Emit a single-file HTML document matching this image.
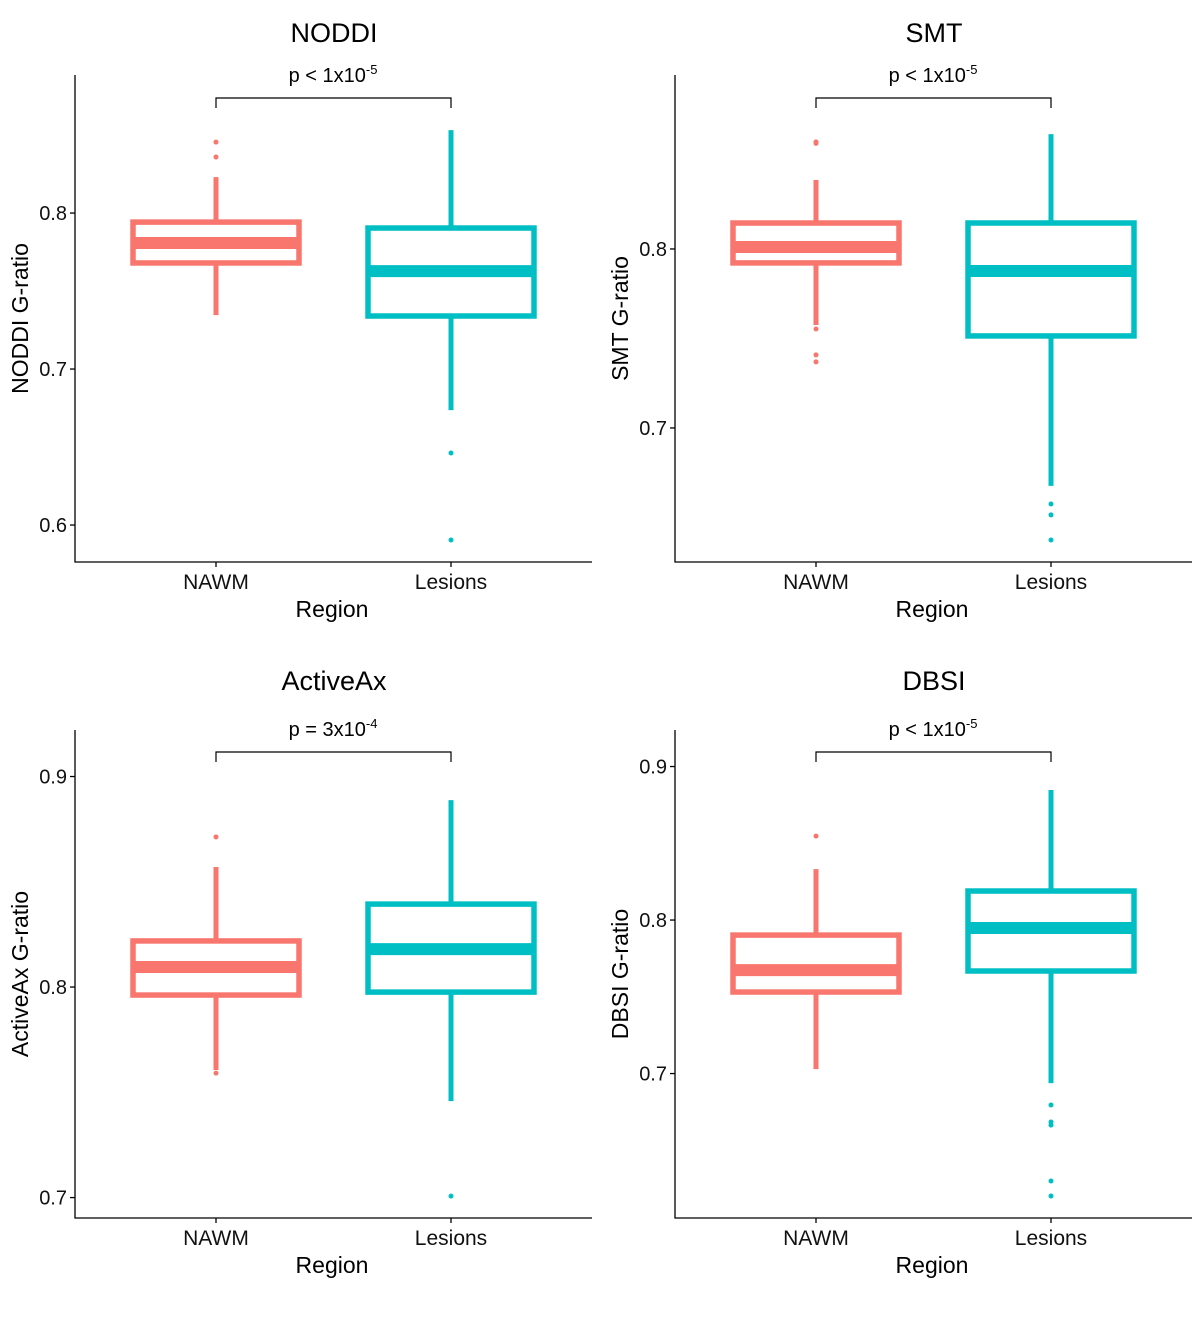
<!DOCTYPE html>
<html><head><meta charset="utf-8"><style>
body{margin:0;background:#fff}
svg{display:block;font-family:"Liberation Sans",sans-serif}
</style></head><body>
<svg id="chart" width="1201" height="1329" viewBox="0 0 1201 1329"></svg>
<script>
const panelNames=["NODDI","SMT","ActiveAx","DBSI"];
const pLabels=[["p < 1x10","-5"],["p < 1x10","-5"],["p = 3x10","-4"],["p < 1x10","-5"]];
const categories=["NAWM","Lesions"];
const yTicks=[[0.6,0.7,0.8],[0.7,0.8],[0.7,0.8,0.9],[0.7,0.8,0.9]];
const yDomains=[[0.5763,0.8885],[0.6251,0.8972],[0.6903,0.9221],[0.6059,0.9238]];
// [lowWhisker, q1, median, q3, highWhisker]
const nawmStats=[[0.7346,0.768,0.7808,0.7942,0.823],[0.7575,0.7922,0.8011,0.8145,0.8385],[0.7606,0.7962,0.8095,0.8219,0.857],[0.7029,0.7531,0.7674,0.7902,0.8332]];
const lesionStats=[[0.6737,0.734,0.7628,0.7904,0.8532],[0.6676,0.7514,0.7877,0.8145,0.8642],[0.7458,0.7976,0.818,0.8394,0.8888],[0.6938,0.7668,0.7948,0.8189,0.8847]];
const nawmOutliers=[[0.8455,0.8359],[0.8598,0.859,0.7553,0.7408,0.7369],[0.8713,0.7591],[0.8547]];
const lesionOutliers=[[0.6462,0.5904],[0.6575,0.6514,0.6374],[0.7007],[0.6795,0.6684,0.6664,0.63,0.6202]];
const colors=["#F8766D","#00BFC4"];
const svg=document.getElementById('chart');
const NS="http://www.w3.org/2000/svg";
function mk(tag,attrs,parent,text){const e=document.createElementNS(NS,tag);for(const k in attrs)e.setAttribute(k,attrs[k]);if(text!==undefined)e.textContent=text;parent.appendChild(e);return e;}
for(let p=0;p<4;p++){
  const ox=(p%2)*600, oy=Math.floor(p/2)*656;
  const g=mk('g',{},svg);
  
  
  const top=75+oy-(p>=2?1:0), bot=562+oy;
  const x0=75+ox, x1=592+ox;
  const [d0,d1]=yDomains[p];
  const yS=v=>bot-(v-d0)/(d1-d0)*(bot-top);
  const xc=[216+ox,451+ox];
  const t=mk('text',{x:334+ox,y:(p>=2?690:42),'text-anchor':'middle','font-size':27},g,panelNames[p]);
  
  const ax=mk('path',{d:`M${x0},${top}V${bot}H${x1}`,stroke:'#000','stroke-width':1.3,fill:'none'},g);
  
  yTicks[p].forEach(v=>{const y=yS(v);
    mk('line',{x1:x0-5,x2:x0,y1:y,y2:y,stroke:'#000','stroke-width':1.3},g);
    const tl=mk('text',{x:x0-8,y:y+7,'text-anchor':'end','font-size':20,fill:'#111'},g,v.toFixed(1));
    });
  categories.forEach((c,i)=>{
    mk('line',{x1:xc[i],x2:xc[i],y1:bot,y2:bot+5,stroke:'#000','stroke-width':1.3},g);
    const xl=mk('text',{x:xc[i],y:bot+27,'text-anchor':'middle','font-size':21,fill:'#111'},g,c);
    });
  const xt=mk('text',{x:332+ox,y:bot+55,'text-anchor':'middle','font-size':23},g,'Region');
  
  const cy=(top+bot)/2;
  const yt=mk('text',{x:0,y:0,transform:`translate(${28+ox},${cy}) rotate(-90)`,'text-anchor':'middle','font-size':23},g,panelNames[p]+' G-ratio');
  
  [nawmStats[p],lesionStats[p]].forEach((s,i)=>{
    const col=colors[i], cx=xc[i], hw=83;
    const bg=mk('g',{},g);
    
    
    mk('line',{x1:cx,x2:cx,y1:yS(s[0]),y2:yS(s[1]),stroke:col,'stroke-width':5},bg);
    mk('line',{x1:cx,x2:cx,y1:yS(s[3]),y2:yS(s[4]),stroke:col,'stroke-width':5},bg);
    mk('rect',{x:cx-hw,y:yS(s[3]),width:hw*2,height:yS(s[1])-yS(s[3]),fill:'#fff',stroke:col,'stroke-width':5.5},bg);
    mk('line',{x1:cx-hw,x2:cx+hw,y1:yS(s[2]),y2:yS(s[2]),stroke:col,'stroke-width':12},bg);
    (i==0?nawmOutliers[p]:lesionOutliers[p]).forEach(v=>{
      const o=mk('circle',{cx:cx,cy:yS(v),r:2.5,fill:col},bg);
      });
  });
  const bry=p>=2?752:98;
  const br=mk('path',{d:`M${xc[0]},${bry+10}V${bry}H${xc[1]}V${bry+10}`,stroke:'#000','stroke-width':1.2,fill:'none'},g);
  
  const pt=mk('text',{x:333+ox,y:bry-16,'text-anchor':'middle','font-size':20},g);
  
  mk('tspan',{},pt,pLabels[p][0]);
  mk('tspan',{dy:-8,'font-size':13},pt,pLabels[p][1]);
}
</script>
</body></html>
